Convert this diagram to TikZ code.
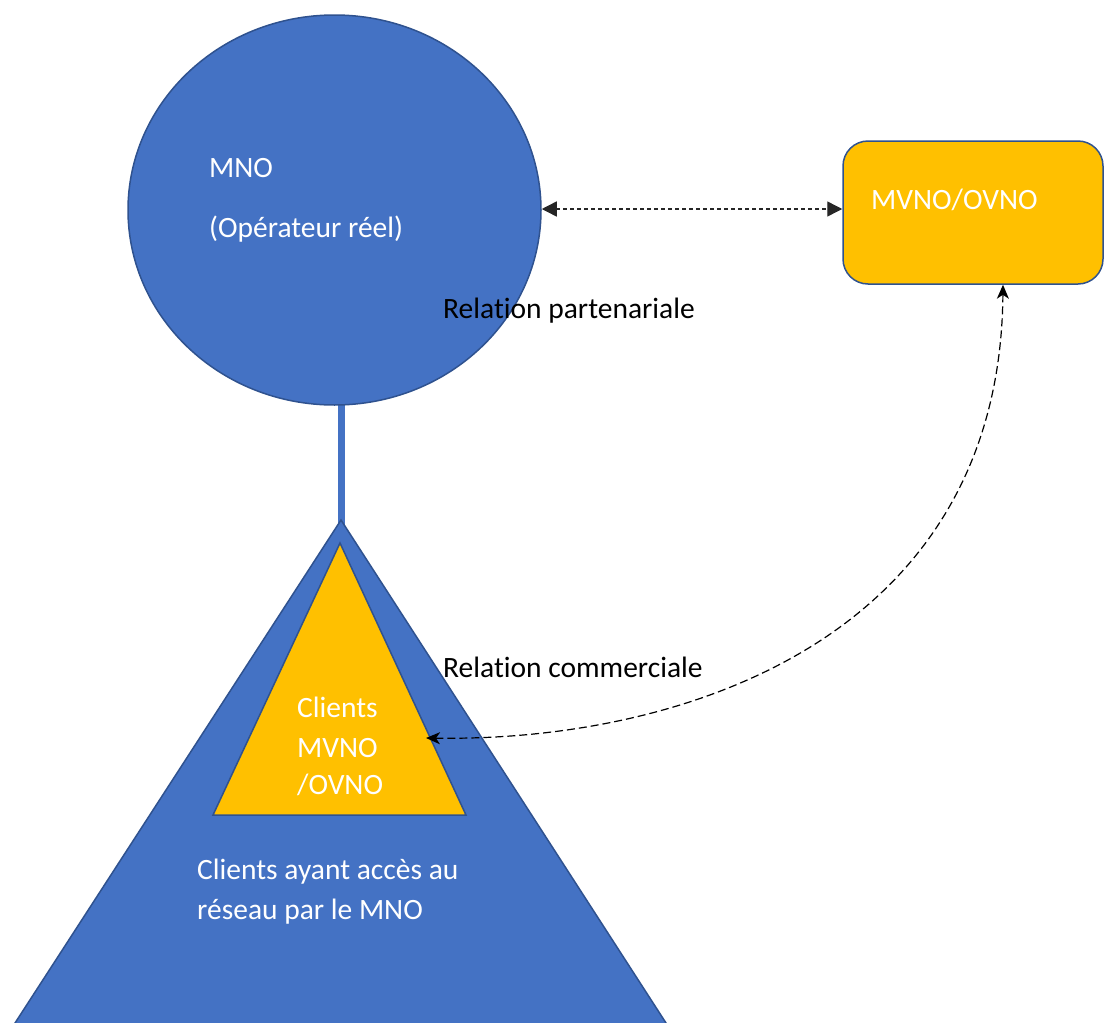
\documentclass[tikz,border=0pt]{standalone}
\usepackage{fontspec}
\setmainfont{Carlito}[Ligatures=NoCommon]
\usetikzlibrary{arrows.meta,shapes.geometric}
\definecolor{mblue}{HTML}{4472C4}
\definecolor{mborder}{HTML}{2F528F}
\definecolor{morange}{HTML}{FFC000}
\begin{document}
\begin{tikzpicture}[x=1pt,y=-1pt,
  txt/.style={inner sep=0pt, anchor=base west, font=\fontsize{29.5}{39}\selectfont},
  wtxt/.style={txt, text=white},
  btxt/.style={txt, text=black},
  shapeline/.style={draw=mborder, line width=1.5pt},
  dline/.style={draw=black!85, line width=1.4pt, dash pattern=on 4pt off 3pt},
  cline/.style={draw=black, line width=1.2pt, dash pattern=on 8pt off 4pt}]
\useasboundingbox (0,0) rectangle (1104,1023);
\begin{scope}
\clip (0,0) rectangle (1104,1023);
% stem
\fill[mblue] (338,395) rectangle (345,526);
% MNO circle
\node[ellipse, shapeline, fill=mblue, minimum width=413pt, minimum height=390pt, inner sep=0pt] (mno) at (334.5,210) {};
% big triangle
\coordinate (bigapex) at (341,520);
\coordinate (bigleft) at (4,1040);
\coordinate (bigright) at (677,1040);
\path[shapeline, fill=mblue] (bigapex) -- (bigleft) -- (bigright) -- cycle;
% small triangle
\coordinate (smapex) at (340,543);
\coordinate (smleft) at (213,815);
\coordinate (smright) at (466,815);
\path[shapeline, fill=morange] (smapex) -- (smleft) -- (smright) -- cycle;
% MVNO box
\node[rectangle, rounded corners=25pt, shapeline, fill=morange, minimum width=260pt, minimum height=143pt, inner sep=0pt] (mvno) at (973,212.5) {};
\end{scope}
% texts
\node[wtxt] (t1) at (209,177) {MNO};
\node[wtxt] (t2) at (209,237) {(Opérateur réel)};
\node[btxt] (t3) at (443,318) {Relation partenariale};
\node[wtxt] (t4) at (871,209) {MVNO/OVNO};
\node[btxt] (t5) at (443,677) {Relation commerciale};
\node[wtxt] (t6) at (297,717) {Clients};
\node[wtxt] (t7) at (297,757) {MVNO};
\node[wtxt] (t8) at (297,794) {/OVNO};
\node[wtxt] (t9) at (197,879) {Clients ayant accès au};
\node[wtxt] (t10) at (197,919) {réseau par le MNO};
% connectors
\coordinate (pA) at (mno.east |- 0,209);
\coordinate (pB) at (mvno.west |- 0,209);
\draw[dline, {Triangle[length=15pt,width=15pt]}-{Triangle[length=15pt,width=15pt]}] (pA) -- (pB);
\coordinate (cA) at (mvno.south -| 1003,0);
\coordinate (cB) at (426,738);
\draw[cline, {Stealth[length=14pt,width=12pt,inset=4pt]}-{Stealth[length=14pt,width=12pt,inset=4pt]}] (cA) .. controls (1000,640) and (680,742) .. (cB);
\end{tikzpicture}
\end{document}
